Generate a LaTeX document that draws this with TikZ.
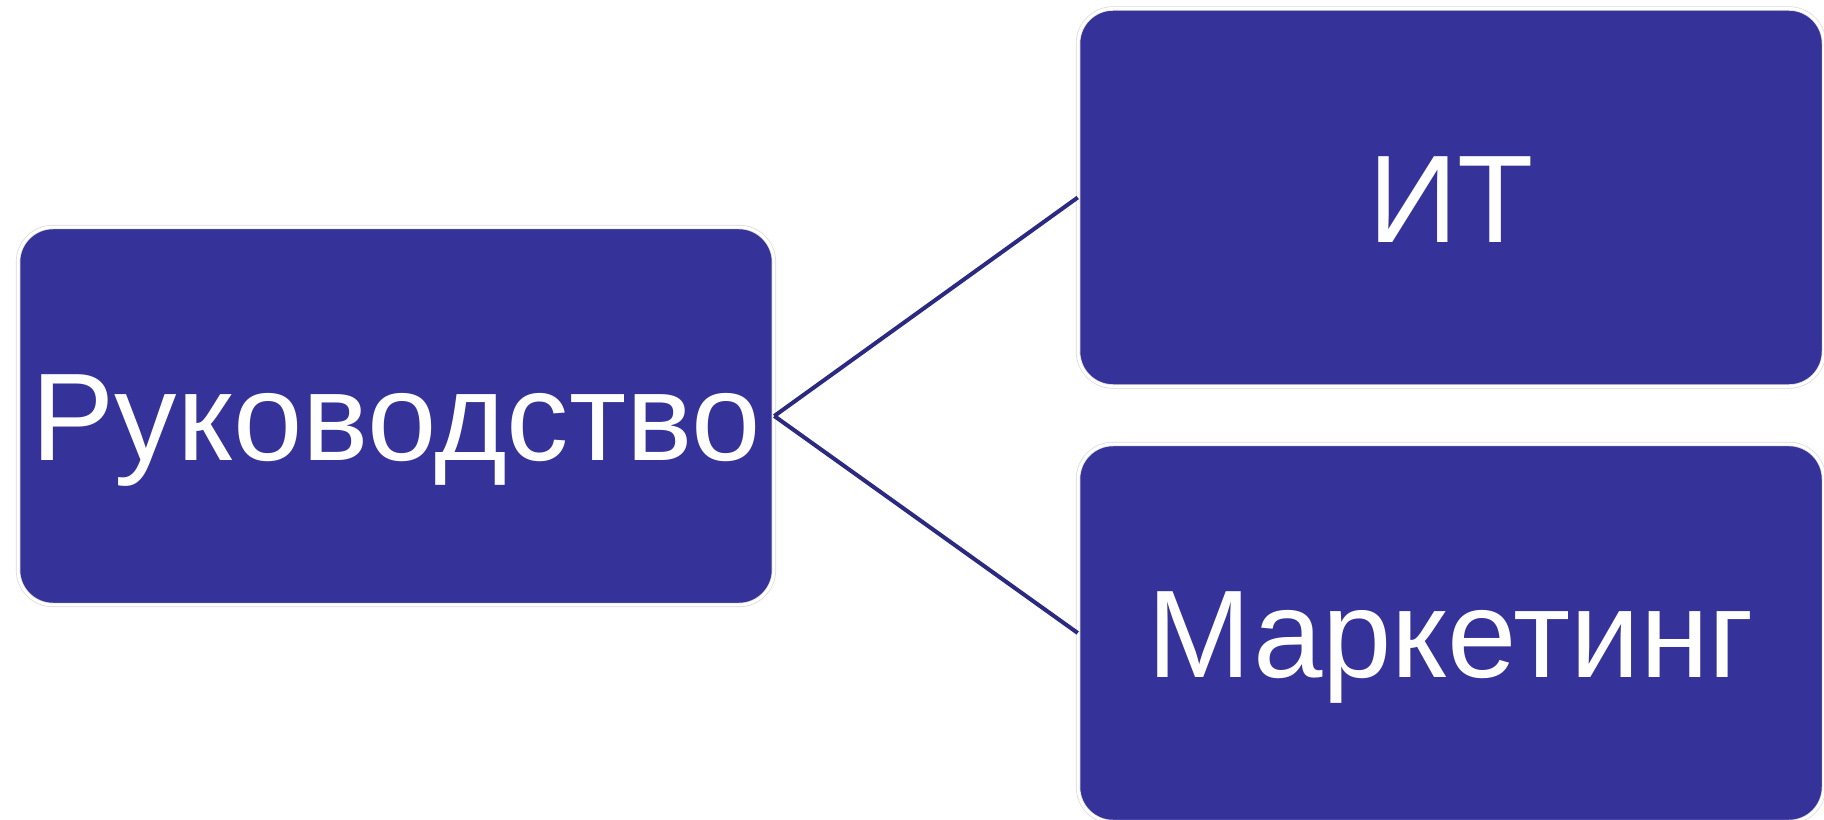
\documentclass[tikz,border=0pt]{standalone}
\usepackage{fontspec}
\setmainfont{Liberation Sans}
\definecolor{boxblue}{RGB}{53,51,153}
\definecolor{linkblue}{RGB}{43,42,128}
\tikzset{
    unit/.style={rounded corners=0.7cm, fill=boxblue, draw=black!15, double=white,
        double distance=0.06cm, line width=0.4pt, text=white,
        font=\fontsize{71}{84}\selectfont, text height=50.8pt, text depth=0pt,
        minimum height=7.56cm},
    link/.style={draw=linkblue, line width=0.08cm}
}
\begin{document}
\begin{tikzpicture}[x=0.02cm,y=-0.02cm]
    \useasboundingbox (0,0) rectangle (1824,820);

    \node[unit, minimum width=15.12cm] (head) at (396,416) {Руководство};
    \node[unit, minimum width=14.92cm] (it) at (1451,197.5) {ИТ};
    \node[unit, minimum width=14.92cm] (marketing) at (1451,633) {Маркетинг};

    \draw[link] (head.east) -- (it.west);
    \draw[link] (head.east) -- (marketing.west);
\end{tikzpicture}
\end{document}
